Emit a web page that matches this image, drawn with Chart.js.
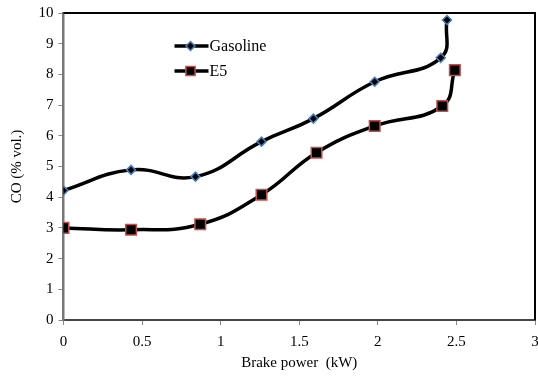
<!DOCTYPE html>
<html>
<head>
<meta charset="utf-8">
<script src="https://cdn.jsdelivr.net/npm/chart.js@4/dist/chart.umd.min.js"></script>
<style>
  html, body { margin: 0; padding: 0; background: #fff; }
  #wrap { width: 538px; height: 378px; position: relative; }
</style>
</head>
<body>
<div id="wrap"><canvas id="c" width="538" height="378"></canvas></div>
<script>
const seriesNames = ['Gasoline', 'E5'];
const gasolineX = [0, 0.43, 0.84, 1.26, 1.59, 1.98, 2.40, 2.44];
const gasolineY = [4.22, 4.89, 4.67, 5.81, 6.56, 7.76, 8.54, 9.77];
const e5X = [0, 0.43, 0.87, 1.26, 1.61, 1.98, 2.41, 2.49];
const e5Y = [3.0, 2.94, 3.12, 4.08, 5.45, 6.32, 6.97, 8.14];
const xTicks = [0, 0.5, 1, 1.5, 2, 2.5, 3];
const yTicks = [0, 1, 2, 3, 4, 5, 6, 7, 8, 9, 10];

const toPts = (xs, ys) => xs.map((x, i) => ({ x: x, y: ys[i] }));

const serif = '"Liberation Serif", "Times New Roman", serif';

const frame = {
  id: 'frame',
  afterDatasetsDraw(chart) {
    const a = chart.chartArea, ctx = chart.ctx;
    ctx.save();
    ctx.strokeStyle = '#000';
    ctx.lineWidth = 2;
    ctx.beginPath();
    ctx.moveTo(a.left, a.top);
    ctx.lineTo(a.right, a.top);
    ctx.lineTo(a.right, a.bottom);
    ctx.stroke();
    ctx.restore();
  },
  afterDraw(chart) {
    const ctx = chart.ctx;
    const a = chart.chartArea;
    const items = chart.data.datasets;
    const lx = a.left + 111, ly0 = a.top + 33, step = 25;
    items.forEach((ds, i) => {
      const y = ly0 + i * step;
      ctx.save();
      ctx.strokeStyle = '#000';
      ctx.lineWidth = 3.5;
      ctx.beginPath();
      ctx.moveTo(lx, y);
      ctx.lineTo(lx + 34, y);
      ctx.stroke();
      ctx.fillStyle = ds.pointBackgroundColor;
      ctx.strokeStyle = ds.pointBorderColor;
      ctx.lineWidth = ds.pointBorderWidth;
      Chart.helpers.drawPoint(ctx, { pointStyle: ds.pointStyle, radius: ds.legendRadius, borderWidth: ds.pointBorderWidth }, lx + 16, y);
      ctx.fillStyle = '#000';
      ctx.font = '16px ' + serif;
      ctx.textBaseline = 'middle';
      ctx.textAlign = 'left';
      ctx.fillText(ds.label, lx + 35, y + 1);
      ctx.restore();
    });
  }
};

new Chart(document.getElementById('c'), {
  type: 'scatter',
  data: {
    datasets: [
      {
        label: seriesNames[0],
        data: toPts(gasolineX, gasolineY),
        showLine: true,
        borderColor: '#000',
        borderWidth: 3.5,
        tension: 0.45,
        pointStyle: 'rectRot',
        pointRadius: 4.5,
        legendRadius: 4.5,
        pointBackgroundColor: '#000',
        pointBorderColor: '#4a7ebb',
        pointBorderWidth: 1.5
      },
      {
        label: seriesNames[1],
        data: toPts(e5X, e5Y),
        showLine: true,
        borderColor: '#000',
        borderWidth: 3.5,
        tension: 0.45,
        pointStyle: 'rect',
        pointRadius: 7.5,
        legendRadius: 6.5,
        pointBackgroundColor: '#000',
        pointBorderColor: '#c0504d',
        pointBorderWidth: 1.5
      }
    ]
  },
  options: {
    responsive: false,
    animation: false,
    layout: { autoPadding: false, padding: { top: 13, right: 3, left: 8, bottom: 0 } },
    plugins: { legend: { display: false }, tooltip: { enabled: false } },
    scales: {
      x: {
        type: 'linear',
        min: 0, max: 3,
        afterBuildTicks: s => { s.ticks = xTicks.map(v => ({ value: v })); },
        afterFit: s => { s.height = 58; s.paddingLeft = 0; s.paddingRight = 0; },
        grid: { display: true, drawOnChartArea: false, drawTicks: true, tickLength: 5, color: '#888', lineWidth: 1 },
        border: { display: true, color: '#444', width: 2 },
        ticks: { color: '#000', font: { family: serif, size: 15 }, padding: 8, maxRotation: 0, callback: v => String(v) },
        title: { display: true, text: 'Brake power  (kW)', color: '#000', font: { family: serif, size: 15 }, padding: { top: 0, bottom: 6 } }
      },
      y: {
        type: 'linear',
        min: 0, max: 10,
        afterBuildTicks: s => { s.ticks = yTicks.map(v => ({ value: v })); },
        afterFit: s => { s.width = 55.5; s.paddingTop = 0; s.paddingBottom = 0; },
        grid: { display: true, drawOnChartArea: false, drawTicks: true, tickLength: 5, color: '#888', lineWidth: 1 },
        border: { display: true, color: '#777', width: 2.5 },
        ticks: { color: '#000', font: { family: serif, size: 15 }, padding: 5, callback: v => String(v) },
        title: { display: true, text: 'CO (% vol.)', color: '#000', font: { family: serif, size: 15 }, padding: { top: 0, bottom: 4 } }
      }
    }
  },
  plugins: [frame]
});
</script>
</body>
</html>
